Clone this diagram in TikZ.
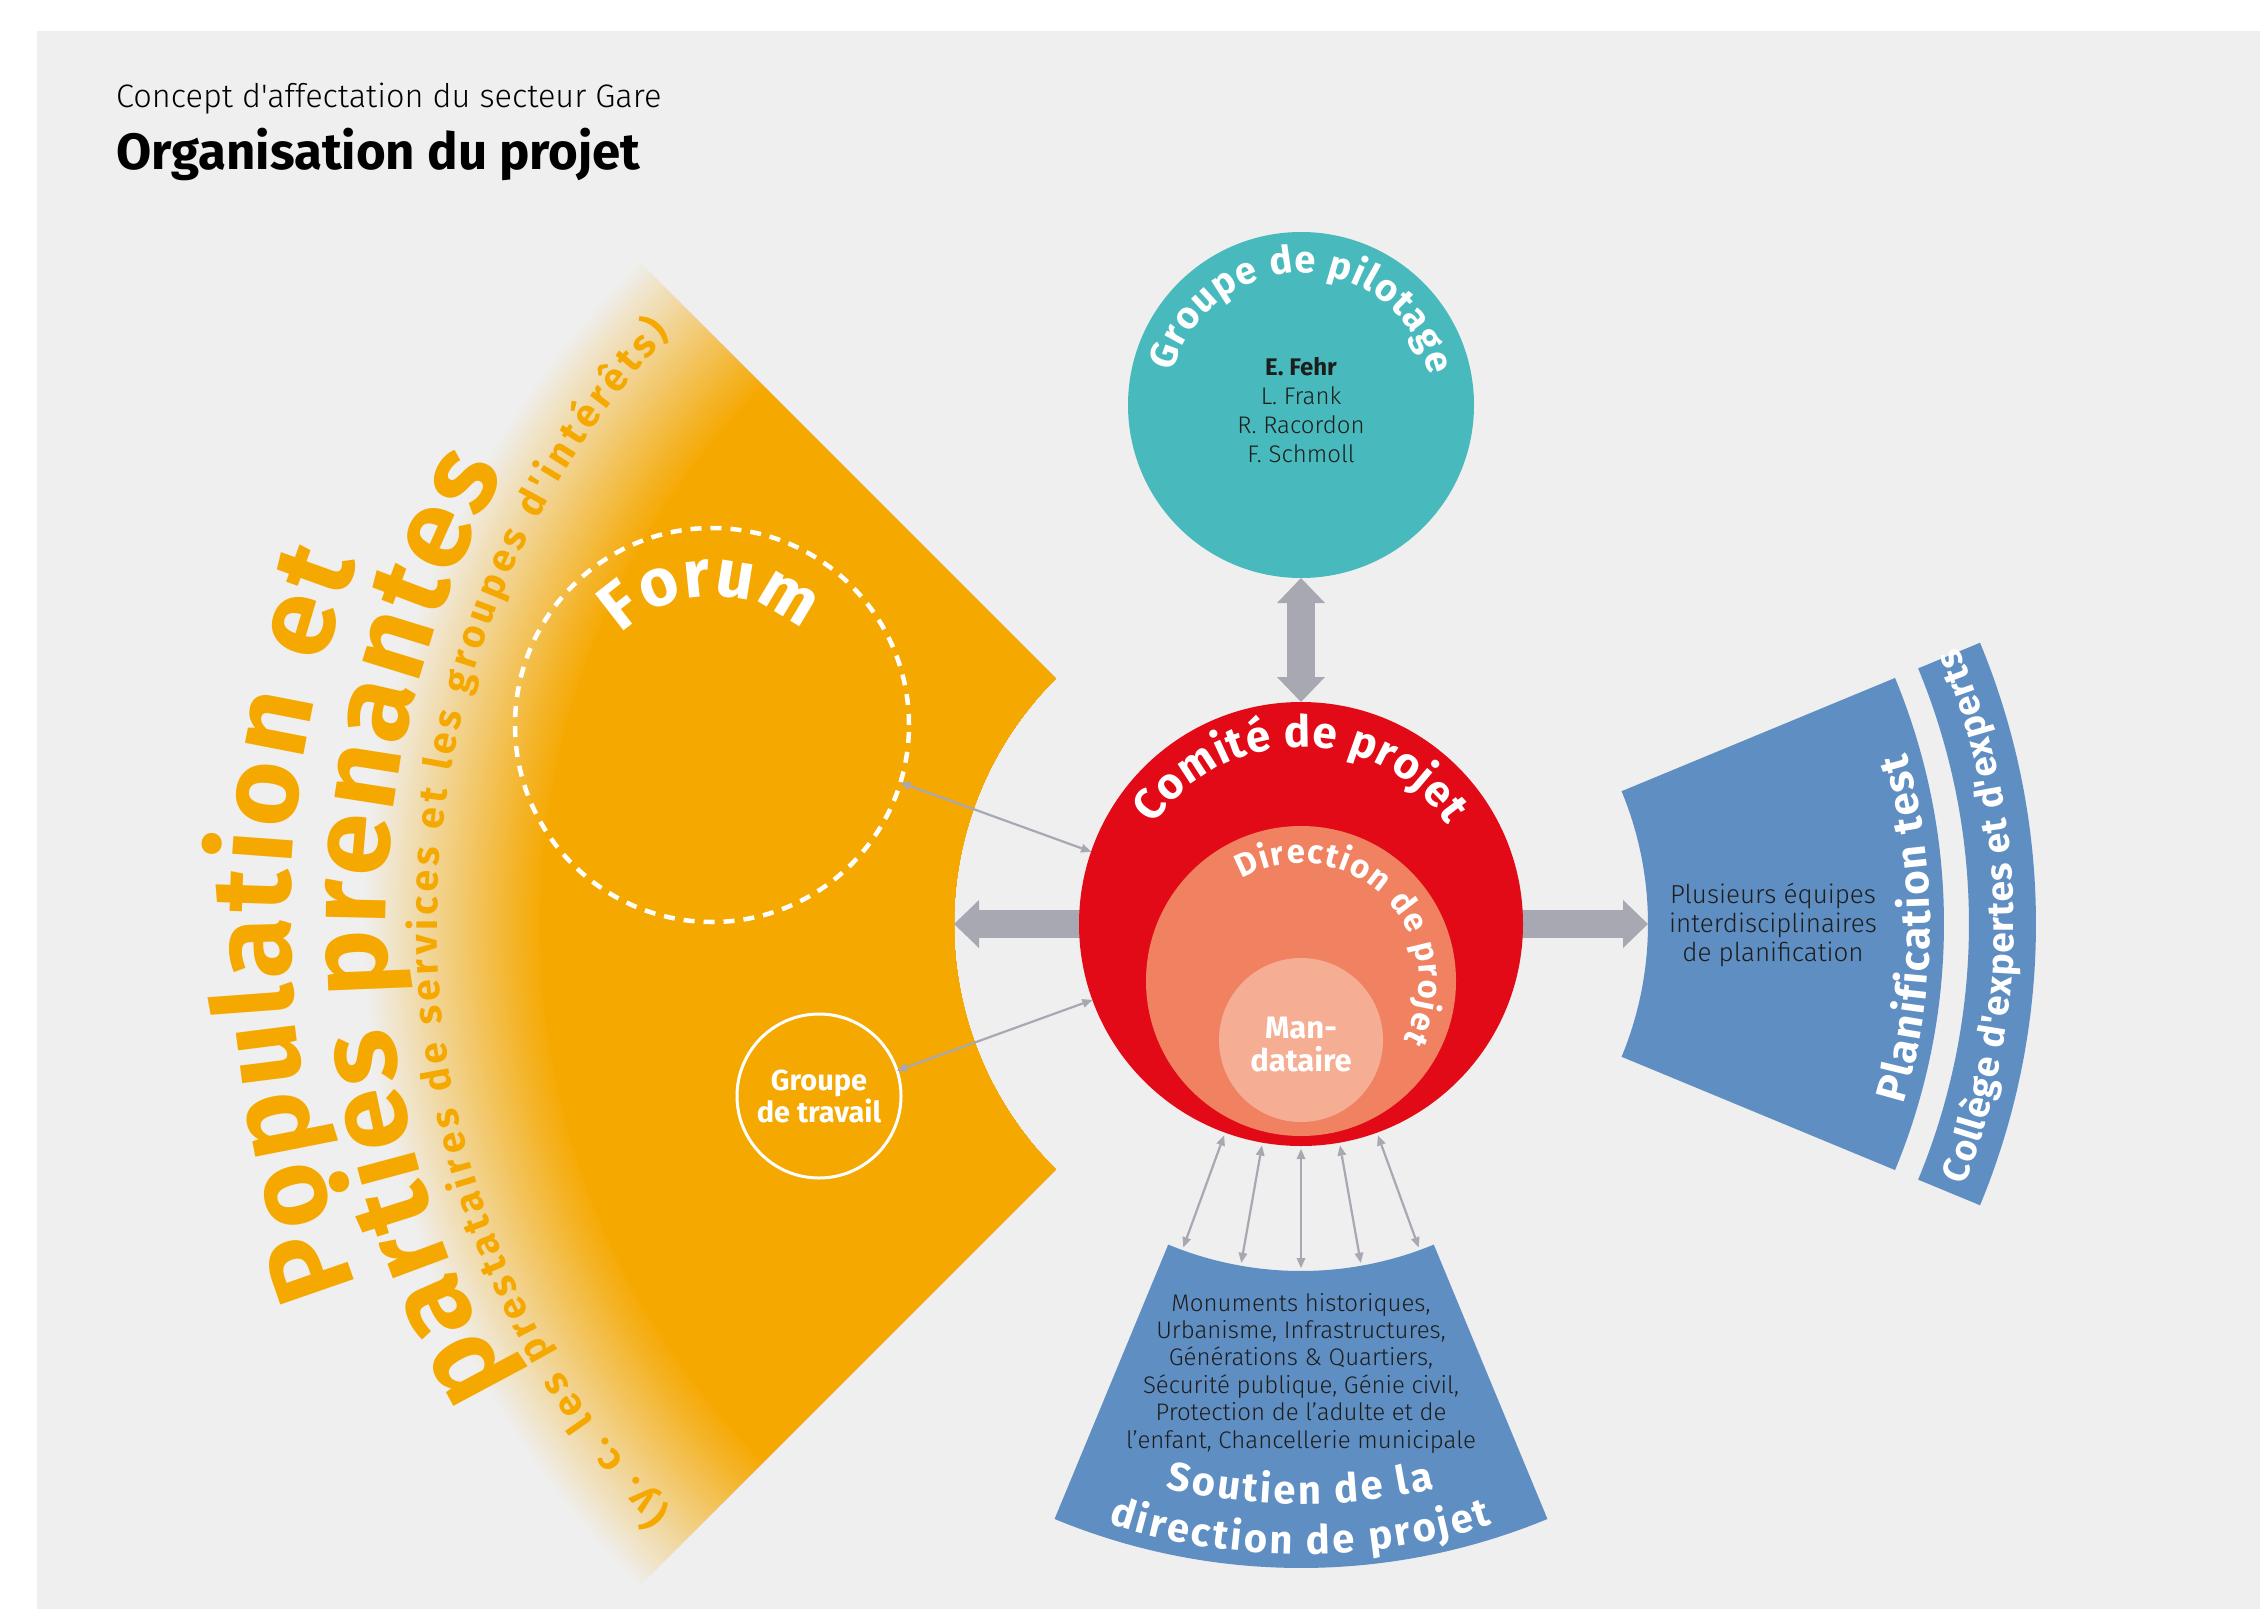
\documentclass[tikz,border=0pt]{standalone}
\usepackage{fontspec}
\setmainfont{Fira Sans}[Ligatures=TeXOff]
\newfontfamily\lightf{Fira Sans Light}[Ligatures=TeXOff]
\usetikzlibrary{decorations.text,arrows.meta,calc}
\definecolor{bgc}{HTML}{EFEFEF}
\definecolor{orng}{HTML}{F5A800}
\definecolor{redc}{HTML}{E20A17}
\definecolor{salm}{HTML}{F08262}
\definecolor{lsalm}{HTML}{F5AE93}
\definecolor{tealc}{HTML}{48BABD}
\definecolor{blu}{HTML}{5F8EC3}
\definecolor{agray}{HTML}{A8A8B3}
\definecolor{txt}{HTML}{1D1D1B}
\newcommand\curvefont[1]{\fontsize{#1}{#1}\selectfont\bfseries}
\tikzset{
  disc/.style={circle, inner sep=0pt, outer sep=0pt},
  bigarrow/.style={draw=agray, line width=28pt},
  thinarrow/.style={draw=agray, line width=2.2pt, {Triangle[length=10pt,width=9pt,line width=0pt]}-{Triangle[length=10pt,width=9pt,line width=0pt]}},
  curved/.style={decorate, decoration={text along path, text align=fit to path, text={#1}}},
  smalltext/.style={font=\lightf\fontsize{24}{27.4}\selectfont, text=txt, align=center},
}
\begin{document}
\begin{tikzpicture}[x=1pt,y=1pt]
\useasboundingbox (0,0) rectangle (2260,-1609);
\fill[white] (0,0) rectangle (2260,-1609);
\fill[bgc] (37,-31) rectangle (2260,-1609);
\coordinate (C) at (1301,-924);

% orange fan with fading outer band
\foreach \i in {0,...,44}{
  \pgfmathsetmacro\rr{940-4*\i}
  \pgfmathtruncatemacro\pp{\i*100/45}
  \fill[orng!\pp!bgc] ($(C)+(135:347)$) arc[start angle=135,end angle=225,radius=347] -- ($(C)+(225:\rr)$) arc[start angle=225,end angle=135,radius=\rr] -- cycle;
}
\fill[orng] ($(C)+(135:347)$) arc[start angle=135,end angle=225,radius=347] -- ($(C)+(225:761)$) arc[start angle=225,end angle=135,radius=761] -- cycle;

% blue fans
\fill[blu] ($(C)+(247.5:347)$) arc[start angle=247.5,end angle=292.5,radius=347] -- ($(C)+(292.5:644)$) arc[start angle=292.5,end angle=247.5,radius=644] -- cycle;
\fill[blu] ($(C)+(-22.5:347)$) arc[start angle=-22.5,end angle=22.5,radius=347] -- ($(C)+(22.5:643)$) arc[start angle=22.5,end angle=-22.5,radius=643] -- cycle;
\fill[blu] ($(C)+(-22.5:668)$) arc[start angle=-22.5,end angle=22.5,radius=668] -- ($(C)+(22.5:735)$) arc[start angle=22.5,end angle=-22.5,radius=735] -- cycle;

% circles
\node[disc, minimum size=444pt] (comite) at (C) {};
\node[disc, fill=tealc, minimum size=346pt] (pilotage) at (1301,-405) {};
\coordinate (oedge) at ($(C)+(180:347)$);
\coordinate (bedge) at ($(C)+(0:347)$);
\draw[bigarrow, -{Triangle[length=25pt,width=48pt,line width=0pt]}] (comite.center) -- (oedge);
\draw[bigarrow, -{Triangle[length=25pt,width=48pt,line width=0pt]}] (comite.center) -- (bedge);
\draw[bigarrow, {Triangle[length=25pt,width=48pt,line width=0pt]}-{Triangle[length=25pt,width=48pt,line width=0pt]}] (pilotage.south) -- (comite.north);

\node[disc, fill=redc, minimum size=444pt] (comitefill) at (C) {};
\node[disc, fill=salm, minimum size=310pt] (direction) at (1301,-981) {};
\node[disc, fill=lsalm, minimum size=164pt] (mandataire) at (1301,-1040) {};
\node[text=white, font={\fontsize{31}{33}\selectfont\bfseries}, align=center] (mandtext) at (1301,-1045) {Man-\\dataire};

\node[disc, draw=white, line width=4.5pt, dash pattern=on 11pt off 9pt, minimum size=394pt] (forum) at (712,-725) {};
\node[disc, draw=white, line width=3pt, minimum size=164pt, text=white, font={\fontsize{29}{32}\selectfont\bfseries}, align=center] (travail) at (819,-1096) {Groupe\\de travail};

% thin arrows
\draw[thinarrow] (forum.-17) -- (comite.161);
\draw[thinarrow] (travail.18) -- (comite.200);
\foreach \a in {250,260,270,280,290}{
  \coordinate (s\a) at ($(C)+(\a:344)$);
  \draw[thinarrow, shorten <=3pt] (comite.\a) -- (s\a);
}

% names
\node[font=\lightf\fontsize{24}{29.3}\selectfont, text=txt, align=center] (names) at (1301,-410) {{\rmfamily\bfseries E. Fehr}\\L. Frank\\R. Racordon\\F. Schmoll};

% curved texts
\path[curved={|\curvefont{44}\color{white}|Comité de projet}] ($(C)+(146:177)$) arc[start angle=146,end angle=34,radius=177];
\path[curved={|\curvefont{33}\color{white}|Direction de projet}] ($(direction.center)+(120:118)$) arc[start angle=120,end angle=-30,radius=118];
\path[curved={|\curvefont{38}\color{white}|Groupe de pilotage}] ($(pilotage.center)+(165.5:132)$) arc[start angle=165.5,end angle=13,radius=132];
\path[curved={|\curvefont{67}\color{white}|Forum}] ($(forum.center)+(135:129)$) arc[start angle=135,end angle=46.5,radius=129];
\path[curved={|\curvefont{112}\color{orng}|Population et}] ($(C)+(201:1011)$) arc[start angle=201,end angle=159,radius=1011];
\path[curved={|\curvefont{112}\color{orng}|parties prenantes}] ($(C)+(210.2:915)$) arc[start angle=210.2,end angle=150.4,radius=915];
\path[curved={|\curvefont{39}\color{orng}|(y. c. les prestataires de services et les groupes d'intérêts)}] ($(C)+(223:864)$) arc[start angle=223,end angle=137,radius=864];
\path[curved={|\curvefont{40}\color{white}|Soutien de la}] ($(C)+(256.5:580)$) arc[start angle=256.5,end angle=283.3,radius=580];
\path[curved={|\curvefont{40}\color{white}|direction de projet}] ($(C)+(252.2:630)$) arc[start angle=252.2,end angle=287.7,radius=630];
\path[curved={|\curvefont{42}\color{white}|Planification test}] ($(C)+(-16.7:629)$) arc[start angle=-16.7,end angle=15.8,radius=629];
\path[curved={|\curvefont{37}\color{white}|Collège d'expertes et d'experts}] ($(C)+(-21.5:713)$) arc[start angle=-21.5,end angle=22.8,radius=713];

% text blocks
\node[smalltext] (soutien) at (1301,-1373) {Monuments historiques,\\Urbanisme, Infrastructures,\\Générations \& Quartiers,\\Sécurité publique, Génie civil,\\Protection de l’adulte et de\\l’enfant, Chancellerie municipale};
\node[font=\lightf\fontsize{26}{28.7}\selectfont, text=txt, align=center] (plusieurs) at (1773,-925) {Plusieurs équipes\\interdisciplinaires\\de planification};

% title
\node[anchor=base west, inner sep=0pt, font=\lightf\fontsize{32.5}{40}\selectfont] (subtitle) at (116,-107) {Concept d'affectation du secteur Gare};
\node[anchor=base west, inner sep=0pt, font=\bfseries\fontsize{51}{60}\selectfont] (title) at (116,-169) {Organisation du projet};
\end{tikzpicture}
\end{document}
